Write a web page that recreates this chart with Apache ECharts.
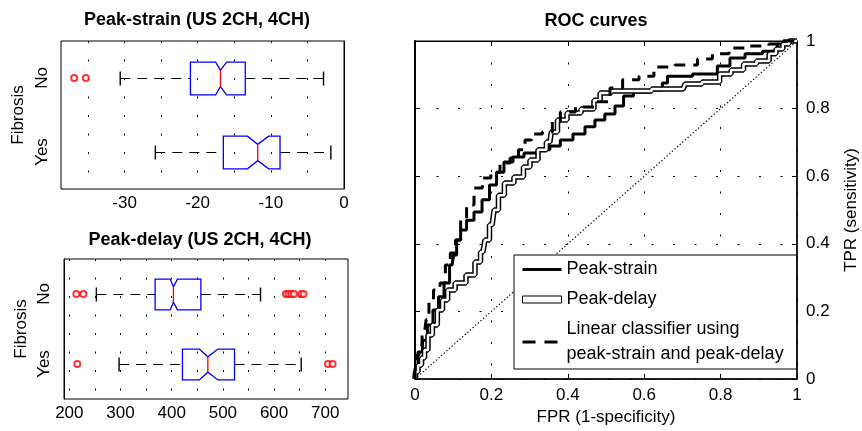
<!DOCTYPE html>
<html>
<head>
<meta charset="utf-8">
<script src="https://cdn.jsdelivr.net/npm/echarts@6/dist/echarts.min.js"></script>
<style>
  html, body { margin: 0; padding: 0; background: #fff; }
  #chart { width: 862px; height: 431px; }
</style>
</head>
<body>
<div id="chart"></div>
<script>
// groups on the box plots
var groups = ['No', 'Yes'];

// peak-strain box stats (No, Yes)
var strainLow = [-30.6, -25.8];
var strainQ1 = [-21.0, -16.5];
var strainMed = [-16.9, -11.8];
var strainQ3 = [-13.5, -8.75];
var strainHigh = [-2.8, -1.8];
var strainNotchLo = [-17.55, -13.2];
var strainNotchHi = [-16.05, -10.3];
var strainOutliers = [[-36.9, 'No'], [-35.3, 'No']];

// peak-delay box stats (No, Yes)
var delayLow = [252.8, 297.2];
var delayQ1 = [367.6, 421];
var delayMed = [403.4, 470.6];
var delayQ3 = [457, 522.7];
var delayHigh = [573.5, 653];
var delayNotchLo = [396.9, 454.2];
var delayNotchHi = [411.2, 490.2];
var delayOutliers = [
  [213.7, 'No'], [227.4, 'No'], [623, 'No'], [628, 'No'], [633.5, 'No'],
  [638.8, 'No'], [653, 'No'], [657.6, 'No'],
  [215.6, 'Yes'], [705.3, 'Yes'], [714.3, 'Yes']
];

// tick values
var strainTicks = [-35, -30, -25, -20, -15, -10, -5, 0];
var strainLabels = [-30, -20, -10, 0];
var delayTicks = [200, 250, 300, 350, 400, 450, 500, 550, 600, 650, 700];
var delayLabels = [200, 300, 400, 500, 600, 700];

// ROC curves, [FPR, TPR]
var rocStrain = [
  [0, 0], [0.003, 0.041], [0.013, 0.080], [0.026, 0.115], [0.039, 0.160],
  [0.055, 0.204], [0.068, 0.243], [0.084, 0.284], [0.097, 0.337], [0.105, 0.367],
  [0.113, 0.411], [0.126, 0.441], [0.144, 0.470], [0.165, 0.494], [0.186, 0.530],
  [0.204, 0.574], [0.223, 0.612], [0.243, 0.642], [0.270, 0.657], [0.301, 0.669],
  [0.340, 0.678], [0.366, 0.689], [0.395, 0.707], [0.432, 0.725], [0.458, 0.746],
  [0.484, 0.766], [0.510, 0.784], [0.537, 0.808], [0.555, 0.837], [0.589, 0.849],
  [0.641, 0.855], [0.654, 0.876], [0.668, 0.896], [0.785, 0.902], [0.798, 0.926],
  [0.851, 0.950], [0.877, 0.962], [0.942, 0.970], [0.955, 0.991], [0.974, 1], [1, 1]
];
var rocDelay = [
  [0, 0], [0.003, 0.021], [0.013, 0.041], [0.021, 0.062], [0.029, 0.086],
  [0.039, 0.130], [0.052, 0.160], [0.065, 0.204], [0.079, 0.234], [0.092, 0.263],
  [0.118, 0.284], [0.149, 0.308], [0.165, 0.346], [0.178, 0.376], [0.188, 0.411],
  [0.202, 0.456], [0.212, 0.500], [0.225, 0.544], [0.243, 0.580], [0.275, 0.598],
  [0.293, 0.627], [0.309, 0.648], [0.335, 0.678], [0.353, 0.701], [0.361, 0.731],
  [0.385, 0.766], [0.411, 0.787], [0.458, 0.799], [0.479, 0.825], [0.490, 0.846],
  [0.537, 0.852], [0.702, 0.858], [0.712, 0.873], [0.791, 0.879], [0.804, 0.902],
  [0.851, 0.914], [0.869, 0.932], [0.919, 0.941], [0.935, 0.962], [0.955, 0.976],
  [0.971, 0.991], [0.987, 1], [1, 1]
];
var rocLinear = [
  [0, 0], [0, 0.027], [0.008, 0.071], [0.013, 0.101], [0.024, 0.130],
  [0.034, 0.175], [0.039, 0.234], [0.058, 0.263], [0.073, 0.284], [0.086, 0.337],
  [0.099, 0.373], [0.113, 0.411], [0.126, 0.470], [0.144, 0.515], [0.165, 0.565],
  [0.188, 0.595], [0.209, 0.612], [0.236, 0.639], [0.262, 0.654], [0.280, 0.678],
  [0.296, 0.707], [0.314, 0.725], [0.353, 0.731], [0.366, 0.763], [0.395, 0.790],
  [0.445, 0.805], [0.497, 0.820], [0.524, 0.861], [0.563, 0.885], [0.610, 0.896],
  [0.641, 0.923], [0.720, 0.929], [0.759, 0.947], [0.798, 0.962], [0.846, 0.979],
  [0.903, 0.985], [0.950, 0.991], [0.961, 1], [1, 1]
];
var chanceLine = [[0, 0], [1, 1]];

var legendNames = ['Peak-strain', 'Peak-delay', 'Linear classifier using\npeak-strain and peak-delay'];

function boxRows(lo, q1, md, q3, hi, nl, nh) {
  return groups.map(function (g, i) {
    return [i, lo[i], q1[i], md[i], q3[i], hi[i], nl[i], nh[i]];
  });
}

// notched horizontal box, drawn through the axis scales
function boxItem(params, api) {
  var c = api.value(0);
  var lo = api.value(1), q1 = api.value(2), md = api.value(3), q3 = api.value(4);
  var hi = api.value(5), nl = api.value(6), nh = api.value(7);
  var h = api.size([0, 1])[1] * 0.22;
  var y = Math.round(api.coord([md, c])[1]) + 0.5;
  var X = function (v) { return api.coord([v, c])[0]; };
  var dash = { stroke: '#000', lineWidth: 1.2, lineDash: [10, 7], fill: null };
  var solid = { stroke: '#000', lineWidth: 1.4, fill: null };
  return {
    type: 'group',
    children: [
      { type: 'line', shape: { x1: X(lo), y1: y, x2: X(q1), y2: y }, style: dash },
      { type: 'line', shape: { x1: X(q3), y1: y, x2: X(hi), y2: y }, style: dash },
      { type: 'line', shape: { x1: X(lo), y1: y - 7, x2: X(lo), y2: y + 7 }, style: solid },
      { type: 'line', shape: { x1: X(hi), y1: y - 7, x2: X(hi), y2: y + 7 }, style: solid },
      {
        type: 'polygon',
        shape: {
          points: [
            [X(q1), y - h], [X(nl), y - h], [X(md), y - h / 2], [X(nh), y - h], [X(q3), y - h],
            [X(q3), y + h], [X(nh), y + h], [X(md), y + h / 2], [X(nl), y + h], [X(q1), y + h]
          ]
        },
        style: { fill: null, stroke: '#0000ff', lineWidth: 1.3 }
      },
      { type: 'line', shape: { x1: X(md), y1: y - h / 2, x2: X(md), y2: y + h / 2 }, style: { stroke: '#ff0000', lineWidth: 1.3 } }
    ]
  };
}

var black = '#000';
var font = "'Liberation Sans', Arial, sans-serif";

function boxXAxis(grid, min, max, ticks, labels) {
  return {
    gridIndex: grid, type: 'value', min: min, max: max,
    axisLine: { onZero: false, lineStyle: { color: black, width: 1 } },
    axisTick: { inside: true, length: 4, customValues: ticks, lineStyle: { color: black } },
    axisLabel: { customValues: labels, fontSize: 17, color: black, margin: 6 },
    splitLine: { show: true, lineStyle: { color: black, width: 1, type: [2, 16.5] } }
  };
}
function boxYAxis(grid, labelMargin) {
  return {
    gridIndex: grid, type: 'category', data: groups, inverse: true,
    axisLine: { lineStyle: { color: black, width: 1 } },
    axisTick: { inside: true, length: 4, alignWithLabel: true, lineStyle: { color: black } },
    axisLabel: { rotate: 90, fontSize: 17, color: black, margin: labelMargin },
    name: 'Fibrosis', nameLocation: 'middle', nameGap: 34, nameRotate: 90,
    nameTextStyle: { fontSize: 17, color: black }
  };
}

var rocDotted = { show: true, lineStyle: { color: black, width: 1, type: [2, 19.5] } };

var option = {
  animation: false,
  backgroundColor: '#fff',
  textStyle: { fontFamily: font, color: black },
  title: [
    { text: 'Peak-strain (US 2CH, 4CH)', left: 197, top: 20, textAlign: 'center', textVerticalAlign: 'middle', padding: 0,
      textStyle: { fontSize: 18, fontWeight: 'bold', color: black, fontFamily: font } },
    { text: 'Peak-delay (US 2CH, 4CH)', left: 200, top: 240, textAlign: 'center', textVerticalAlign: 'middle', padding: 0,
      textStyle: { fontSize: 18, fontWeight: 'bold', color: black, fontFamily: font } },
    { text: 'ROC curves', left: 596, top: 21, textAlign: 'center', textVerticalAlign: 'middle', padding: 0,
      textStyle: { fontSize: 18, fontWeight: 'bold', color: black, fontFamily: font } }
  ],
  grid: [
    { left: 61, top: 41, width: 283, height: 148, show: true, borderColor: black, borderWidth: 1 },
    { left: 64, top: 259, width: 284, height: 140, show: true, borderColor: black, borderWidth: 1 },
    { left: 415, top: 41, width: 382, height: 338, show: true, borderColor: black, borderWidth: 1 }
  ],
  xAxis: [
    boxXAxis(0, -38.7, 0, strainTicks, strainLabels),
    boxXAxis(1, 189.6, 744.4, delayTicks, delayLabels),
    {
      gridIndex: 2, type: 'value', min: 0, max: 1, interval: 0.2,
      axisLine: { onZero: false, lineStyle: { color: black, width: 1.5 } },
      axisTick: { inside: true, length: 5, lineStyle: { color: black } },
      axisLabel: { fontSize: 17, color: black, margin: 8 },
      splitLine: rocDotted,
      name: 'FPR (1-specificity)', nameLocation: 'middle', nameGap: 29,
      nameTextStyle: { fontSize: 17, color: black }
    },
    {
      gridIndex: 2, type: 'value', min: 0, max: 1, interval: 0.2, position: 'top',
      axisLine: { onZero: false, lineStyle: { color: black, width: 1 } },
      axisTick: { inside: true, length: 5, lineStyle: { color: black } },
      axisLabel: { show: false }, splitLine: { show: false }
    }
  ],
  yAxis: [
    boxYAxis(0, 10),
    boxYAxis(1, 11),
    {
      gridIndex: 2, type: 'value', min: 0, max: 1, interval: 0.2, position: 'right',
      axisLine: { onZero: false, lineStyle: { color: black, width: 1.5 } },
      axisTick: { inside: true, length: 5, lineStyle: { color: black } },
      axisLabel: { fontSize: 17, color: black, margin: 9 },
      splitLine: rocDotted,
      name: 'TPR (sensitivity)', nameLocation: 'middle', nameGap: 46, nameRotate: 90,
      nameTextStyle: { fontSize: 17, color: black }
    },
    {
      gridIndex: 2, type: 'value', min: 0, max: 1, interval: 0.2, position: 'left',
      axisLine: { onZero: false, lineStyle: { color: black, width: 2 } },
      axisTick: { inside: true, length: 5, lineStyle: { color: black } },
      axisLabel: { show: false }, splitLine: { show: false }
    }
  ],
  legend: {
    orient: 'vertical', left: 514, top: 255,
    padding: [2, 13, 2, 8], itemGap: 5, itemWidth: 39, itemHeight: 7,
    borderColor: black, borderWidth: 1, borderRadius: 0, backgroundColor: '#fff',
    selectedMode: false,
    textStyle: { fontSize: 18, lineHeight: 25, color: black, fontFamily: font },
    data: [
      { name: legendNames[0], icon: 'path://M0,0 M0,2 H39 V5 H0 Z M39,7', itemStyle: { color: black, borderWidth: 0 } },
      { name: legendNames[1], icon: 'rect', itemStyle: { color: '#fff', borderColor: black, borderWidth: 1 } },
      { name: legendNames[2], icon: 'path://M0,0 M0,2 H13 V5 H0 Z M22,2 H35 V5 H22 Z M39,7', itemStyle: { color: black, borderWidth: 0 } }
    ]
  },
  series: [
    { type: 'custom', xAxisIndex: 0, yAxisIndex: 0, renderItem: boxItem, silent: true,
      encode: { x: [1, 2, 3, 4, 5, 6, 7], y: 0 },
      data: boxRows(strainLow, strainQ1, strainMed, strainQ3, strainHigh, strainNotchLo, strainNotchHi) },
    { type: 'scatter', xAxisIndex: 0, yAxisIndex: 0, symbol: 'emptyCircle', symbolSize: 6, silent: true,
      itemStyle: { color: '#ff0000', borderWidth: 1.3 }, data: strainOutliers },
    { type: 'custom', xAxisIndex: 1, yAxisIndex: 1, renderItem: boxItem, silent: true,
      encode: { x: [1, 2, 3, 4, 5, 6, 7], y: 0 },
      data: boxRows(delayLow, delayQ1, delayMed, delayQ3, delayHigh, delayNotchLo, delayNotchHi) },
    { type: 'scatter', xAxisIndex: 1, yAxisIndex: 1, symbol: 'emptyCircle', symbolSize: 6, silent: true,
      itemStyle: { color: '#ff0000', borderWidth: 1.3 }, data: delayOutliers },
    { type: 'line', name: 'chance', xAxisIndex: 2, yAxisIndex: 2, data: chanceLine, symbol: 'none', silent: true,
      lineStyle: { color: black, width: 1.2, type: [1.3, 2.2] } },
    { type: 'line', name: legendNames[0], xAxisIndex: 2, yAxisIndex: 2, data: rocStrain, step: 'middle', symbol: 'none',
      silent: true, clip: false, color: black, lineStyle: { color: black, width: 3 } },
    { type: 'line', name: 'Peak-delay outline', xAxisIndex: 2, yAxisIndex: 2, data: rocDelay, step: 'middle', symbol: 'none',
      silent: true, clip: false, color: black, lineStyle: { color: black, width: 5.5 } },
    { type: 'line', name: legendNames[1], xAxisIndex: 2, yAxisIndex: 2, data: rocDelay, step: 'middle', symbol: 'none',
      silent: true, clip: false, color: '#fff', lineStyle: { color: '#fff', width: 2.5 } },
    { type: 'line', name: legendNames[2], xAxisIndex: 2, yAxisIndex: 2, data: rocLinear, step: 'middle', symbol: 'none',
      silent: true, clip: false, color: black, lineStyle: { color: black, width: 3, type: [11, 8] } }
  ]
};

var myChart = echarts.init(document.getElementById('chart'));
myChart.setOption(option);
</script>
</body>
</html>
